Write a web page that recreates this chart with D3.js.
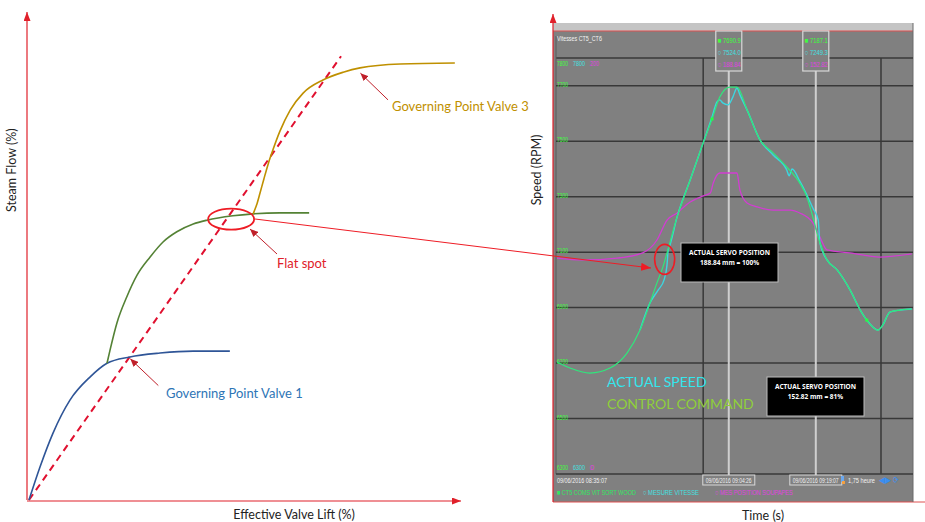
<!DOCTYPE html>
<html><head><meta charset="utf-8">
<script src="https://cdn.jsdelivr.net/npm/d3@7"></script>
<style>body{margin:0;background:#fff}svg{display:block}</style>
</head><body>
<svg id="c" width="925" height="522"></svg>
<script>
// ---------- LEFT PANEL DATA (effective valve lift % vs steam flow %) ----------
const v1Lift=[0,2.55,5.57,9.5,14.2,18.1,23.4,30.4,38.1,46.6];
const v1Flow=[0,6.8,13.8,20.6,25.4,28.2,29.5,30.3,30.7,30.7];
const v2Lift=[18.1,18.8,20.4,22.7,25.1,28.1,31.1,34.3,38.1,41.3,47.3,52.0,58.2,65.0];
const v2Flow=[28.2,30.9,36.5,41.9,46.4,50.1,53.2,55.3,56.9,57.7,58.6,59.0,59.2,59.2];
const v3Lift=[52.0,52.8,53.6,54.5,55.5,56.6,58.2,60.6,63.6,68.2,72.9,76.8,86.1,98.8];
const v3Flow=[59.0,60.8,63.3,66.2,69.3,72.2,76.0,80.4,83.9,86.6,88.2,89.1,89.9,90.1];
const idealLift=[0,72.4];
const idealFlow=[0,91.5];

// ---------- RIGHT PANEL DATA (minutes after 08:35:07) ----------
const cmdMin=[0.34,2.53,5.9,9.28,12.15,14.34,16.03,17.2,18.2,18.9,20.6,22.8,25.0,26.5,27.8,29.5,30.7,32.4,34.6,36.8,39.1,41.3,42.5,43.5,44.7,45.9,47.6,49.8,51.5,52.6,54.5,55.3,56.5,58.2,60.2];
const cmdRPM=[6704,6682,6664,6682,6736,6819,6917,6989,7046,7097,7227,7360,7494,7580,7659,7695,7695,7613,7504,7458,7407,7349,7299,7227,7133,7072,7036,6963,6891,6855,6819,6837,6884,6891,6895];
const speedMin=[14.34,16.03,17.4,18.4,18.9,19.1,19.4,20.6,22.8,25.0,26.5,27.3,27.8,28.3,29.2,30.0,30.7,31.2,32.4,34.6,36.8,39.1,39.5,40.0,41.3,42.5,43.5,44.4,44.7,45.9,47.6,49.8,51.5,52.6,54.5,55.3,56.5,58.2,60.2];
const speedRPM=[6819,6917,6963,7000,7054,7108,7126,7227,7360,7494,7587,7641,7649,7638,7631,7659,7692,7667,7613,7504,7450,7396,7375,7400,7356,7306,7259,7216,7133,7072,7036,6963,6891,6855,6819,6837,6884,6891,6895];
const valveMin=[0.34,4.7,10.5,14.8,17.2,18.9,20.6,22.8,25.0,26.2,26.7,27.8,30.7,31.2,32.4,34.1,36.8,39.7,41.3,43.5,44.7,45.9,49.8,54.8,60.2];
const valveMM=[103.8,102.9,103.8,106.3,112.5,122.1,125.5,130.8,133.7,135.1,139.9,144.7,144.7,136.5,130.3,128.4,126.9,126.9,125.5,120.7,113.9,107.7,106.3,104.3,105.8];
const rpmTicks=[6500,6700,6900,7100,7300,7500,7700];
const timeGridMin=[25,55];
const cursorMin=[29.32,44.0];
const cursorLabels=["09/06/2016 09:04:26","09/06/2016 09:19:07"];
const cursorCmd=["7690.9","7187.1"];
const cursorSpeed=["7524.0","7249.3"];
const cursorPos=["188.84","152.82"];

const svg=d3.select("#c");
const defs=svg.append("defs");
function arrow(id,color,len,w){
  defs.append("marker").attr("id",id).attr("markerUnits","userSpaceOnUse")
    .attr("viewBox",`0 0 ${len} ${w}`).attr("refX",len).attr("refY",w/2)
    .attr("markerWidth",len).attr("markerHeight",w).attr("orient","auto")
    .append("path").attr("d",`M0,0L${len},${w/2}L0,${w}Z`).attr("fill",color);
}
arrow("axR","#e0202a",9,7);
arrow("anR","#c0202a",8,7);
arrow("flR","#ee1c25",10,8);

// ---------- LEFT PANEL ----------
const xL=d3.scaleLinear([0,100],[29,460]);
const yL=d3.scaleLinear([0,100],[500,15]);
const lineL=d3.line().x(d=>xL(d[0])).y(d=>yL(d[1])).curve(d3.curveMonotoneX);
const zip=(a,b)=>a.map((v,i)=>[v,b[i]]);

svg.append("line").attr("x1",xL(0)-2).attr("y1",yL(0)).attr("x2",xL(0)-2).attr("y2",yL(100)-3)
  .attr("stroke","#e0202a").attr("stroke-width",1.2).attr("marker-end","url(#axR)");
svg.append("line").attr("x1",xL(0)-2).attr("y1",yL(0)+1).attr("x2",xL(100)+1).attr("y2",yL(0)+1)
  .attr("stroke","#e0202a").attr("stroke-width",1.2).attr("marker-end","url(#axR)");

svg.append("path").attr("d",d3.line().x(d=>xL(d[0])).y(d=>yL(d[1]))(zip(idealLift,idealFlow)))
  .attr("stroke","#e0102f").attr("stroke-width",2).attr("stroke-dasharray","7,5").attr("fill","none");
svg.append("path").attr("d",lineL(zip(v1Lift,v1Flow))).attr("stroke","#2f5597").attr("stroke-width",1.6).attr("fill","none");
svg.append("path").attr("d",lineL(zip(v2Lift,v2Flow))).attr("stroke","#548235").attr("stroke-width",1.6).attr("fill","none");
svg.append("path").attr("d",lineL(zip(v3Lift,v3Flow))).attr("stroke","#bf9000").attr("stroke-width",1.6).attr("fill","none");

const fontA="Lato, 'Open Sans', sans-serif";
svg.append("text").attr("transform",`translate(16,${yL(68)}) rotate(-90)`).attr("text-anchor","middle")
  .attr("font-family",fontA).attr("font-size",12.5).attr("fill","#222").text("Steam Flow (%)");
svg.append("text").attr("x",xL(61.5)).attr("y",519).attr("text-anchor","middle")
  .attr("font-family",fontA).attr("font-size",12.5).attr("fill","#222").text("Effective Valve Lift (%)");

// annotations
svg.append("line").attr("x1",xL(30)).attr("y1",yL(23.6)).attr("x2",xL(23.5)).attr("y2",yL(29.1))
  .attr("stroke","#c0202a").attr("stroke-width",1).attr("marker-end","url(#anR)");
svg.append("text").attr("x",166).attr("y",398).attr("font-family",fontA).attr("font-size",13).attr("fill","#2e75b6").text("Governing Point Valve 1");
svg.append("line").attr("x1",xL(83.3)).attr("y1",yL(82.5)).attr("x2",xL(76.9)).attr("y2",yL(88))
  .attr("stroke","#c0202a").attr("stroke-width",1).attr("marker-end","url(#anR)");
svg.append("text").attr("x",392).attr("y",111).attr("font-family",fontA).attr("font-size",13).attr("fill","#bf9000").text("Governing Point Valve 3");
svg.append("ellipse").attr("cx",xL(46.9)).attr("cy",yL(57.9)).attr("rx",23).attr("ry",10.5)
  .attr("fill","none").attr("stroke","#ee1c25").attr("stroke-width",1.8);
svg.append("line").attr("x1",277).attr("y1",254).attr("x2",250).attr("y2",229)
  .attr("stroke","#c0202a").attr("stroke-width",1).attr("marker-end","url(#anR)");
svg.append("text").attr("x",277).attr("y",268).attr("font-family",fontA).attr("font-size",13).attr("fill","#e0202a").text("Flat spot");

// ---------- RIGHT PANEL ----------
const xR=d3.scaleLinear([0,60.4],[555,913]);
const yR=d3.scaleLinear([6300,7800],[474,58]);
const yP=d3.scaleLinear([0,200],[474,58]);
const nf="'Liberation Sans', Arial, sans-serif";
// condensed small text: horizontally scaled so that it spans `len` pixels
function small(x,y,txt,color,len,anchor,size){
  const g=svg.append("g");
  const t=g.append("text").attr("x",0).attr("y",0).attr("font-family",nf).attr("font-size",size||7.5)
    .attr("fill",color).text(txt);
  const w=t.node().getComputedTextLength();
  const sx=len?len/w:1;
  const x0=anchor==="middle"?x-(len||w)/2:x;
  g.attr("transform",`translate(${x0},${y}) scale(${sx},1)`);
  return g;
}

svg.append("rect").attr("x",553).attr("y",23).attr("width",360).attr("height",9).attr("fill","#c4c4c4");
svg.append("rect").attr("x",553).attr("y",31).attr("width",360).attr("height",471).attr("fill","#808080");
svg.append("line").attr("x1",553).attr("x2",913).attr("y1",31).attr("y2",31).attr("stroke","#e05050").attr("stroke-width",1);
svg.append("line").attr("x1",553).attr("x2",925).attr("y1",502).attr("y2",502).attr("stroke","#e05050").attr("stroke-width",1);
svg.append("line").attr("x1",913).attr("x2",913).attr("y1",23).attr("y2",502).attr("stroke","#6a6a6a").attr("stroke-width",1);

// grid
const gridC="#383838";
svg.append("line").attr("x1",556).attr("x2",913).attr("y1",yR(7800)).attr("y2",yR(7800)).attr("stroke",gridC).attr("stroke-width",1.5);
svg.append("line").attr("x1",556).attr("x2",556).attr("y1",36).attr("y2",yR(6300)).attr("stroke","#5a5a5a").attr("stroke-width",1);
svg.append("line").attr("x1",556).attr("x2",913).attr("y1",yR(6300)).attr("y2",yR(6300)).attr("stroke",gridC).attr("stroke-width",1.5);
svg.selectAll(".hg").data(rpmTicks).enter().append("line")
  .attr("x1",556).attr("x2",913).attr("y1",d=>yR(d)).attr("y2",d=>yR(d)).attr("stroke",gridC).attr("stroke-width",1.5);
svg.selectAll(".vg").data(timeGridMin).enter().append("line")
  .attr("x1",d=>xR(d)).attr("x2",d=>xR(d)).attr("y1",yR(7800)).attr("y2",yR(6300)).attr("stroke",gridC).attr("stroke-width",1.5);
rpmTicks.forEach(d=>small(557,yR(d)+1,String(d),"#3cff3c",11));

// header texts
small(557,41,"Vitesses CT5_CT6","#f2f2f2",45,null,8);
small(557,66,"7800","#3cff3c",11);
small(573,66,"7800","#40e0e0",12);
small(590,66,"200","#e040e0",9);
small(557,470,"6300","#3cff3c",11);
small(573,470,"6300","#40e0e0",12);
small(590,470,"0","#e040e0");

// cursors
svg.selectAll(".cl").data(cursorMin).enter().append("line")
  .attr("x1",d=>xR(d)).attr("x2",d=>xR(d)).attr("y1",71).attr("y2",475).attr("stroke","#cfcfcf").attr("stroke-width",2);
cursorMin.forEach((m,i)=>{
  const cx=xR(m);
  svg.append("rect").attr("x",cx-13).attr("y",31).attr("width",26).attr("height",40).attr("fill","#808080").attr("stroke","#d8d8d8").attr("stroke-width",1.2);
  small(cx-11,43,"■ "+cursorCmd[i],"#3cff3c",23);
  small(cx-11,55,"○ "+cursorSpeed[i],"#40e0e0",23);
  small(cx-11,67,"○ "+cursorPos[i],"#e040e0",23);
  svg.append("rect").attr("x",cx-26).attr("y",475).attr("width",52).attr("height",10).attr("fill","#808080").attr("stroke","#d8d8d8").attr("stroke-width",1);
  small(cx,483,cursorLabels[i],"#f2f2f2",46,"middle");
});
small(557,483,"09/06/2016 08:35:07","#f2f2f2",50);
svg.append("rect").attr("x",841).attr("y",476).attr("width",3).attr("height",6).attr("fill","#6aa8f0");
svg.append("rect").attr("x",842).attr("y",481).attr("width",3).attr("height",3).attr("fill","#f4a040");
small(848,483,"1,75 heure","#f2f2f2",27);
small(879,483,"◀▶","#3a8ef0",12,null,9);
small(893,483,"⟳","#3a8ef0",6,null,9);

// legend
small(557,495,"■ CT5 COMS VIT SORT WOOD","#2ee860",79);
small(643,495,"○ MESURE VITESSE","#40e0e0",56);
small(715,495,"○ MES POSITION SOUPAPES","#e040e0",78);

// series
const lR=d3.line().x(d=>xR(d[0])).y(d=>yR(d[1])).curve(d3.curveMonotoneX);
const lP=d3.line().x(d=>xR(d[0])).y(d=>yP(d[1])).curve(d3.curveMonotoneX);
svg.append("path").attr("d",lP(zip(valveMin,valveMM))).attr("fill","none").attr("stroke","#d23cd2").attr("stroke-width",1.3);
svg.append("path").attr("d",lR(zip(speedMin,speedRPM))).attr("fill","none").attr("stroke","#3cd6e0").attr("stroke-width",1.4);
svg.append("path").attr("d",lR(zip(cmdMin,cmdRPM))).attr("fill","none").attr("stroke","#2ee87c").attr("stroke-width",1.2);
svg.selectAll(".mk").data([26.5,52.6]).enter().append("rect")
  .attr("x",d=>xR(d)-1.5).attr("y",d=>yR(cmdRPM[cmdMin.indexOf(d)])-1.5).attr("width",3).attr("height",3).attr("fill","#22ff44");

// annotation boxes
function servoBox(x,y,l2){
  svg.append("rect").attr("x",x).attr("y",y).attr("width",97).attr("height",39).attr("fill","#000").attr("stroke","#bbb").attr("stroke-width",1);
  svg.append("text").attr("x",x+48.5).attr("y",y+12).attr("text-anchor","middle").attr("font-family","'Open Sans', Lato, sans-serif").attr("font-weight","bold").attr("font-size",6.5).attr("fill","#fff").text("ACTUAL SERVO POSITION");
  svg.append("text").attr("x",x+48.5).attr("y",y+22).attr("text-anchor","middle").attr("font-family","'Open Sans', Lato, sans-serif").attr("font-weight","bold").attr("font-size",6.5).attr("fill","#fff").text(l2);
}
servoBox(681,243,"188.84 mm = 100%");
servoBox(767,377,"152.82 mm = 81%");

svg.append("text").attr("x",607).attr("y",387).attr("font-family",fontA).attr("font-size",14).attr("fill","#33e6ee").text("ACTUAL SPEED");
svg.append("text").attr("x",607).attr("y",409).attr("font-family",fontA).attr("font-size",14).attr("fill","#8fcf3a").text("CONTROL COMMAND");

// flat spot ellipse on right
svg.append("ellipse").attr("cx",xR(18.5)).attr("cy",yR(7074)).attr("rx",10).attr("ry",15).attr("fill","none").attr("stroke","#ee1c25").attr("stroke-width",1.6);
// connector arrow
svg.append("line").attr("x1",255).attr("y1",219).attr("x2",651).attr("y2",268)
  .attr("stroke","#ee1c25").attr("stroke-width",1).attr("marker-end","url(#flR)");

// right y axis arrow
svg.append("line").attr("x1",553).attr("y1",502).attr("x2",553).attr("y2",14)
  .attr("stroke","#e0202a").attr("stroke-width",1.2).attr("marker-end","url(#axR)");
svg.append("text").attr("transform","translate(541,170) rotate(-90)").attr("text-anchor","middle")
  .attr("font-family",fontA).attr("font-size",12.5).attr("fill","#222").text("Speed (RPM)");
svg.append("text").attr("x",763).attr("y",520).attr("text-anchor","middle")
  .attr("font-family",fontA).attr("font-size",12.5).attr("fill","#222").text("Time (s)");
</script>
</body></html>
